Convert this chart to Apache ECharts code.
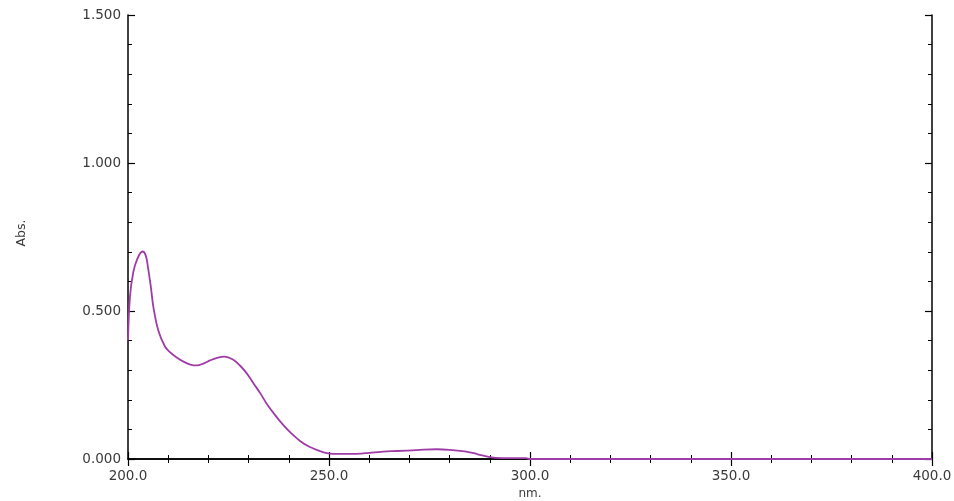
<!DOCTYPE html>
<html>
<head>
<meta charset="utf-8">
<script src="https://cdn.jsdelivr.net/npm/echarts@6/dist/echarts.min.js"></script>
<style>
html,body{margin:0;padding:0;background:#fff;}
#chart{width:954px;height:501px;}
</style>
</head>
<body>
<div id="chart"></div>
<script>
// Wavelength (nm) and absorbance values
const wavelength = [200, 200.5, 201.3, 202.2, 203.6, 204.4, 205.0, 205.7, 206.3, 207.5, 209.2, 210.5, 211.7, 213.8, 215.5, 217.1, 219, 220.4, 222, 224, 226, 227.9, 229.5, 231.2, 233, 234.5, 236.5, 238.6, 240.5, 242.8, 245, 247.3, 249.8, 252, 255, 258, 260, 263.5, 267, 271.8, 276.8, 280, 284.2, 287, 290, 293, 299, 300, 400];
const absorbance = [0.40, 0.55, 0.63, 0.672, 0.701, 0.688, 0.645, 0.580, 0.515, 0.436, 0.380, 0.360, 0.347, 0.329, 0.319, 0.316, 0.324, 0.333, 0.341, 0.346, 0.337, 0.315, 0.29, 0.256, 0.22, 0.187, 0.15, 0.115, 0.088, 0.061, 0.042, 0.029, 0.019, 0.017, 0.017, 0.018, 0.021, 0.025, 0.027, 0.030, 0.033, 0.031, 0.025, 0.016, 0.006, 0.003, 0.003, 0.0, 0.0];
const xTicks = [200, 250, 300, 350, 400];
const yTicks = [0, 0.5, 1.0, 1.5];

const points = wavelength.map((w, i) => [w, absorbance[i]]);
const font = 'DejaVu Sans, Verdana, sans-serif';
const labelColor = '#3a3a3a';

const chart = echarts.init(document.getElementById('chart'), null, {renderer: 'canvas'});
const axisBase = {
  type: 'value',
  axisLine: {show: true, lineStyle: {color: '#000', width: 1.5}},
  axisTick: {show: true, inside: true, length: 7, lineStyle: {color: '#000', width: 1.2}},
  minorTick: {show: true, splitNumber: 5, length: 4, lineStyle: {color: '#000', width: 1}},
  splitLine: {show: false},
  minorSplitLine: {show: false}
};
chart.setOption({
  animation: false,
  grid: {left: 128, right: 22, top: 15, bottom: 42, containLabel: false, outerBoundsMode: 'none'},
  xAxis: [
    Object.assign({}, axisBase, {
      min: xTicks[0], max: xTicks[xTicks.length - 1], interval: 50,
      position: 'bottom',
      name: 'nm.', nameLocation: 'middle', nameGap: 26,
      nameTextStyle: {fontFamily: font, fontSize: 12, color: labelColor},
      axisLabel: {fontFamily: font, fontSize: 13.5, color: labelColor, margin: 10,
        formatter: v => v.toFixed(1)}
    }),
    Object.assign({}, axisBase, {
      min: xTicks[0], max: xTicks[xTicks.length - 1], interval: 50,
      position: 'top', axisLabel: {show: false}
    })
  ],
  yAxis: [
    Object.assign({}, axisBase, {
      min: yTicks[0], max: yTicks[yTicks.length - 1], interval: 0.5,
      position: 'left',
      name: 'Abs.', nameLocation: 'middle', nameGap: 100, nameRotate: 90,
      nameTextStyle: {fontFamily: font, fontSize: 12.5, color: labelColor, padding: [0, 0, 0, 8]},
      axisLabel: {fontFamily: font, fontSize: 13.5, color: labelColor, margin: 7,
        formatter: v => v.toFixed(3)}
    }),
    Object.assign({}, axisBase, {
      min: yTicks[0], max: yTicks[yTicks.length - 1], interval: 0.5,
      position: 'right', axisLabel: {show: false}
    })
  ],
  series: [{
    type: 'line',
    data: points,
    showSymbol: false,
    smooth: 0.4,
    clip: false,
    z: 5,
    lineStyle: {color: '#a03ca8', width: 1.8}
  }]
});
</script>
</body>
</html>
